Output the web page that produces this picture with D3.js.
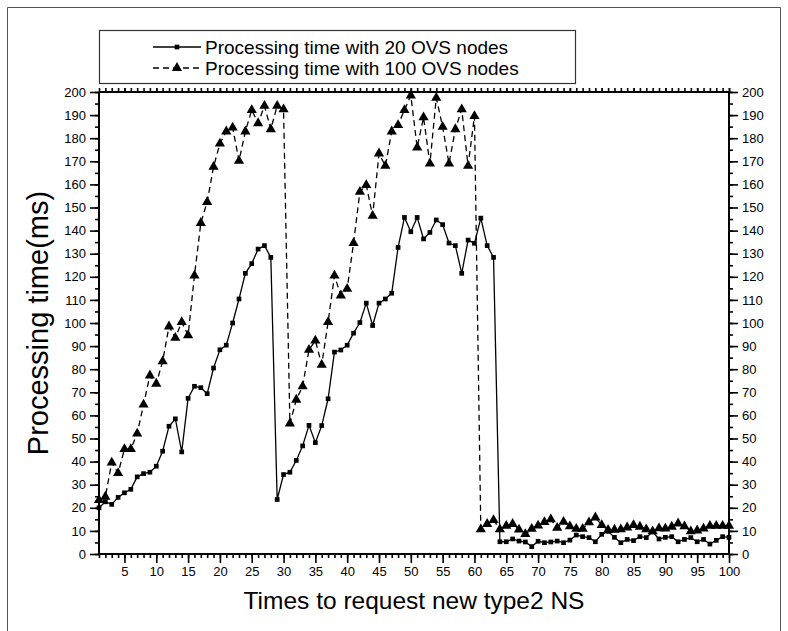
<!DOCTYPE html>
<html>
<head>
<meta charset="utf-8">
<script src="https://cdn.jsdelivr.net/npm/d3@7"></script>
<style>
    body { margin: 0; background: #fff; }
    svg { display: block; font-family: "Liberation Sans", Arial, sans-serif; }
</style>
</head>
<body>
<div id="chart"></div>
<script>
const requests = d3.range(1, 101);

const time20 = [
    20, 22.6, 21.5, 24.5, 26.5, 28, 33.4, 34.8, 35.4, 38,
    44.5, 55.3, 58.5, 44.2, 67.4, 72.6, 72, 69.4, 80.5, 88.4,
    90.4, 100, 110.4, 121.5, 125.7, 132, 133.5, 128.4, 23.6, 34.4,
    35.4, 40.5, 46.8, 55.7, 48.2, 55.6, 67.2, 87.4, 88.3, 90.4,
    95.6, 100.2, 108.6, 98.9, 108.6, 110.4, 112.9, 132.7, 145.7, 139.5,
    145.7, 136.4, 139.2, 144.6, 142.6, 134.6, 133.5, 121.5, 135.9, 134.5,
    145.4, 133.5, 128.4, 5.3, 5.3, 6.5, 5.6, 5.2, 3.2, 5.5,
    4.9, 5.2, 5.6, 4.9, 6, 8.2, 7.5, 7.1, 5.3, 8.5,
    9.8, 7.2, 4.9, 6.3, 5.8, 7.5, 7.1, 9.6, 6.5, 7.2,
    7.5, 5.3, 6.3, 7.1, 5.3, 6.3, 4.3, 5.9, 7.5, 7.2
];

const time100 = [
    23.3, 24.8, 39.6, 35, 45.4, 45.4, 52.1, 64.7, 77.3, 73.7,
    83.4, 98.5, 93.6, 100.4, 94.7, 120.5, 143.3, 152.4, 167.6, 177.7,
    182.9, 184.6, 170.2, 182.9, 192.2, 186.5, 194, 183.9, 194, 192.5,
    56.5, 66.8, 72.6, 88.4, 92.4, 81.9, 100.4, 120.5, 111.9, 114.8,
    134.6, 156.8, 159.7, 146.4, 173.4, 168, 182.9, 185.7, 192.2, 198.5,
    176, 189, 169, 197.5, 184.9, 169, 183.9, 192.5, 168, 189.6,
    10.7, 13, 14.7, 10.7, 12.2, 13, 10.6, 8.6, 10.9, 12.3,
    13.8, 15, 11.3, 13.9, 12, 10.9, 10.9, 13.7, 15.8, 12.5,
    10.4, 10.5, 10.7, 11.5, 12.5, 11.8, 10.7, 9.8, 11.1, 11,
    11.8, 13.2, 12, 9.8, 10.2, 11, 12.2, 12.2, 12.2, 12.2
];

const xMajor = d3.range(5, 101, 5);
const xMinor = d3.range(1, 101, 1);
const yMajor = d3.range(0, 201, 10);
const yMinor = d3.range(0, 201, 5);

const seriesNames = [
    'Processing time with 20 OVS nodes',
    'Processing time with 100 OVS nodes'
];

const width = 788;
const height = 631;
const plot = { left: 99, right: 729, top: 92, bottom: 554 };

const x = d3.scaleLinear().domain([1, 100]).range([plot.left, plot.right]);
const y = d3.scaleLinear().domain([0, 200]).range([plot.bottom, plot.top]);

const svg = d3.select('#chart')
    .append('svg')
    .attr('width', width)
    .attr('height', height);

// page frame
svg.append('path')
    .attr('d', 'M7.5,640V7.5H780.5V640')
    .attr('fill', 'none')
    .attr('stroke', '#555')
    .attr('stroke-width', 1);

// axes: major ticks with labels, minor ticks without
const addAxis = (axisFn, scale, transform, majors, minors, labelled) => {
    svg.append('g')
        .attr('transform', transform)
        .call(axisFn(scale).tickValues(minors).tickSize(4).tickFormat(''))
        .call(g => g.select('.domain').remove());
    const g = svg.append('g')
        .attr('transform', transform)
        .call(axisFn(scale).tickValues(majors).tickSize(labelled ? 9 : 4)
            .tickPadding(4).tickFormat(labelled ? d3.format('d') : ''));
    g.selectAll('text').attr('font-size', 13).attr('fill', '#000');
    g.selectAll('line, path').attr('stroke', '#000').attr('stroke-width', 1.6);
    g.select('.domain').attr('stroke-width', 2);
    return g;
};

addAxis(d3.axisBottom, x, `translate(0,${plot.bottom})`, xMajor, xMinor, true)
    .selectAll('.domain').attr('d', `M${plot.left},0H${plot.right}`);
addAxis(d3.axisTop, x, `translate(0,${plot.top})`, xMajor, xMinor, false)
    .selectAll('.domain').attr('d', `M${plot.left},0H${plot.right}`);
addAxis(d3.axisLeft, y, `translate(${plot.left},0)`, yMajor, yMinor, true)
    .selectAll('.domain').attr('d', `M0,${plot.bottom}V${plot.top}`);
addAxis(d3.axisRight, y, `translate(${plot.right},0)`, yMajor, yMinor, true)
    .selectAll('.domain').attr('d', `M0,${plot.bottom}V${plot.top}`);

svg.selectAll('.tick line').attr('stroke', '#000').attr('stroke-width', 1.6);

// series
const line = d3.line()
    .x((d, i) => x(requests[i]))
    .y(d => y(d));

svg.append('path')
    .datum(time20)
    .attr('d', line)
    .attr('fill', 'none')
    .attr('stroke', '#000')
    .attr('stroke-width', 1.3);

svg.append('path')
    .datum(time100)
    .attr('d', line)
    .attr('fill', 'none')
    .attr('stroke', '#000')
    .attr('stroke-width', 1.3)
    .attr('stroke-dasharray', '6,4');

const square = d3.symbol().type(d3.symbolSquare).size(22);
const triangle = d3.symbol().type(d3.symbolTriangle).size(45);

svg.append('g')
    .selectAll('path')
    .data(time20)
    .enter().append('path')
    .attr('transform', (d, i) => `translate(${x(requests[i])},${y(d)})`)
    .attr('d', square)
    .attr('fill', '#000');

svg.append('g')
    .selectAll('path')
    .data(time100)
    .enter().append('path')
    .attr('transform', (d, i) => `translate(${x(requests[i])},${y(d)})`)
    .attr('d', triangle)
    .attr('fill', '#000');

// legend
const legend = svg.append('g');
legend.append('rect')
    .attr('x', 99.5)
    .attr('y', 30.5)
    .attr('width', 476)
    .attr('height', 53)
    .attr('fill', '#fff')
    .attr('stroke', '#333')
    .attr('stroke-width', 1.2);

[47, 68].forEach((ly, i) => {
    legend.append('line')
        .attr('x1', 153).attr('x2', 201)
        .attr('y1', ly).attr('y2', ly)
        .attr('stroke', '#000')
        .attr('stroke-width', 1.3)
        .attr('stroke-dasharray', i === 1 ? '6,4' : null);
    legend.append('path')
        .attr('transform', `translate(177,${ly})`)
        .attr('d', i === 1 ? triangle : square)
        .attr('fill', '#000');
    legend.append('text')
        .attr('x', 205)
        .attr('y', ly)
        .attr('dy', '0.36em')
        .attr('font-size', 19)
        .text(seriesNames[i]);
});

// axis titles
svg.append('text')
    .attr('x', (plot.left + plot.right) / 2)
    .attr('y', 609)
    .attr('text-anchor', 'middle')
    .attr('font-size', 24.5)
    .text('Times to request new type2 NS');

svg.append('text')
    .attr('transform', `translate(48,${(plot.top + plot.bottom) / 2}) rotate(-90)`)
    .attr('text-anchor', 'middle')
    .attr('font-size', 29)
    .text('Processing time(ms)');
</script>
</body>
</html>
